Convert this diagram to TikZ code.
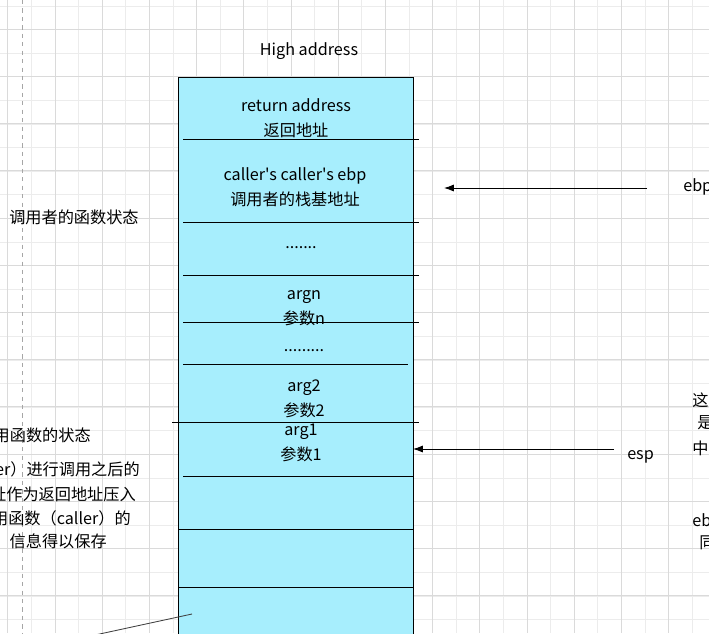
\documentclass[tikz,border=0pt]{standalone}
\usepackage{fontspec}
\setmainfont{Noto Sans CJK SC}[Ligatures=TeXOff]
\usepackage{tikz}
\usetikzlibrary{arrows.meta}
\definecolor{stackcyan}{RGB}{167,238,253}
\definecolor{gridminor}{RGB}{236,236,236}
\definecolor{gridmajor}{RGB}{218,218,218}
\tikzset{
  txt/.style={inner sep=0pt,font=\fontsize{11.5}{17.5}\selectfont},
  cell/.style={txt,align=center},
  sepline/.style={line width=0.7pt},
  ptr/.style={-{Latex[length=7pt,width=5pt]},line width=0.6pt},
}

\begin{document}
\begin{tikzpicture}[x=0.025cm,y=-0.025cm]
    \clip (0,0) rectangle (709,633);
    \fill[white] (0,0) rectangle (709,633);
    % grid
    \foreach \i in {0,...,30} {
      \draw[gridminor,line width=0.5pt] ({7.8+23.6*\i},0) -- ({7.8+23.6*\i},633);
      \draw[gridminor,line width=0.5pt] (0,{6+23.6*\i}) -- (709,{6+23.6*\i});
    }
    \foreach \i in {-1,...,14} {
      \draw[gridmajor,line width=0.5pt] ({55+47.2*\i},0) -- ({55+47.2*\i},633);
      \draw[gridmajor,line width=0.5pt] (0,{29.2+47.2*\i}) -- (709,{29.2+47.2*\i});
    }
    \draw[gray!70,dashed,line width=0.6pt] (22,0) -- (22,633);

    % stack
    \draw[fill=stackcyan,line width=0.7pt] (178,77) rectangle (413,660);
    \draw[sepline] (183,139) -- (419,139);
    \draw[sepline] (183,222) -- (419,222);
    \draw[sepline] (183,275) -- (419,275);
    \draw[sepline] (183,322) -- (419,322);
    \draw[sepline] (183,364) -- (408,364);
    \draw[sepline] (172,422) -- (419,422);
    \draw[sepline] (183,476) -- (413,476);
    \draw[sepline] (178,529) -- (413,529);
    \draw[sepline] (178,587) -- (413,587);

    \node[txt] (high) at (309,51) {High address};
    \node[cell] (ret) at (296,118) {return address\\返回地址};
    \node[cell] (oldebp) at (295,187) {caller's caller's ebp\\调用者的栈基地址};
    \node[txt] (dotsa) at (301,248) {.......};
    \node[cell] (argn) at (304,308) {argn\\参数n};
    \node[txt] (dotsb) at (304,351) {.........};
    \node[cell] (argtwo) at (304,399) {arg2\\参数2};
    \node[cell] (argone) at (301,443) {arg1\\参数1};

    % pointers
    \node[txt,anchor=west] (ebp) at (683,187) {ebp};
    \coordinate (ebpfrom) at (647,188);
    \coordinate (ebpto) at (444,188);
    \draw[ptr] (ebpfrom) -- (ebpto);
    \node[txt,anchor=west] (esp) at (627,457) {esp};
    \coordinate (espfrom) at (614,449);
    \coordinate (espto) at (413,449);
    \draw[ptr] (espfrom) -- (espto);

    % notes on the left
    \node[txt,anchor=west] (callerstate) at (9,217) {调用者的函数状态};
    \node[txt,anchor=east] (calleestate) at (91,435) {用函数的状态};
    \node[txt,anchor=east] (notea) at (140,469) {er）进行调用之后的};
    \node[txt,anchor=east] (noteb) at (136,494) {址作为返回地址压入};
    \node[txt,anchor=east] (notec) at (131,518) {用函数（caller）的};
    \node[txt,anchor=east] (noted) at (107,541) {信息得以保存};
    \coordinate (lnfrom) at (95,635);
    \coordinate (lnto) at (192,614);
    \draw[black!75,line width=0.6pt] (lnfrom) -- (lnto);

    % notes on the right
    \node[txt,anchor=west] (ra) at (692,400) {这};
    \node[txt,anchor=west] (rb) at (697,423) {是};
    \node[txt,anchor=west] (rc) at (692,448) {中};
    \node[txt,anchor=west] (rd) at (692,520) {eb};
    \node[txt,anchor=west] (re) at (699,543) {同};
\end{tikzpicture}
\end{document}
